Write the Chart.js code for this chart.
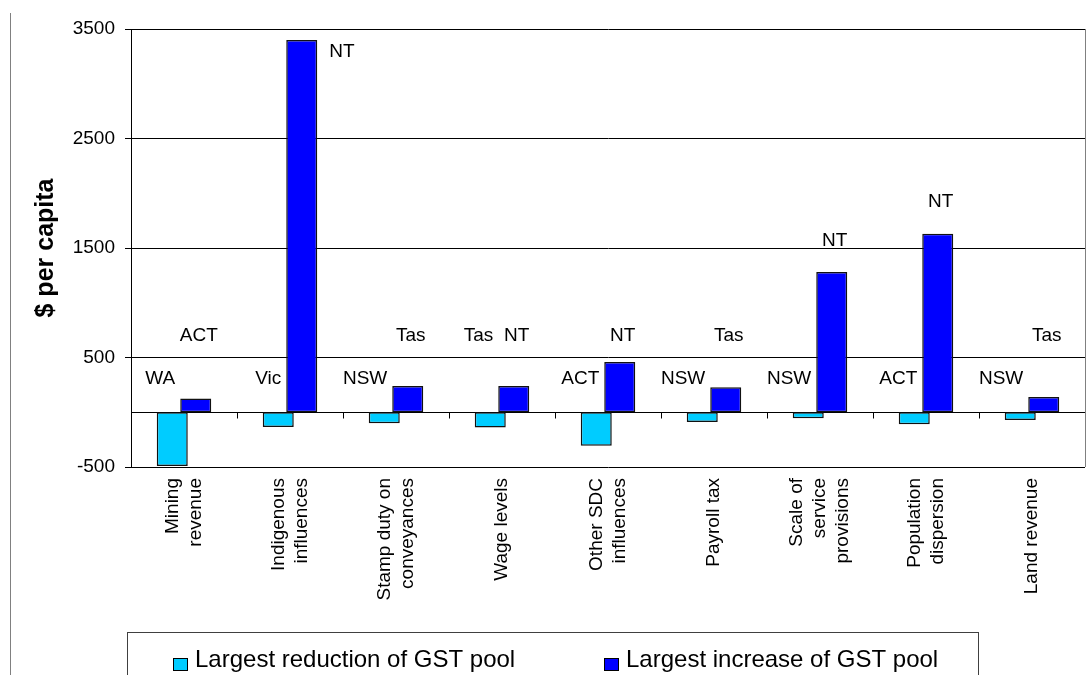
<!DOCTYPE html>
<html>
<head>
<meta charset="utf-8">
<script src="https://cdn.jsdelivr.net/npm/chart.js@4/dist/chart.umd.min.js"></script>
<style>
  html, body { margin: 0; padding: 0; background: #fff; }
</style>
</head>
<body>
<canvas id="gstChart" width="1091" height="675"></canvas>
<script>
// categories (x axis)
var categories = [
  ['Mining', 'revenue'],
  ['Indigenous', 'influences'],
  ['Stamp duty on', 'conveyances'],
  'Wage levels',
  ['Other SDC', 'influences'],
  'Payroll tax',
  ['Scale of', 'service', 'provisions'],
  ['Population', 'dispersion'],
  'Land revenue'
];

// $ per capita
var reductionValues = [-490, -135, -100, -140, -305, -90, -55, -110, -70];
var increaseValues  = [125, 3400, 240, 240, 460, 228, 1280, 1630, 140];

// state shown over each bar
var reductionStates = ['WA', 'Vic', 'NSW', 'Tas', 'ACT', 'NSW', 'NSW', 'ACT', 'NSW'];
var increaseStates  = ['ACT', 'NT', 'Tas', 'NT', 'NT', 'Tas', 'NT', 'NT', 'Tas'];

var seriesNames = ['Largest reduction of GST pool', 'Largest increase of GST pool'];
var yTicks = [-500, 500, 1500, 2500, 3500];

var FONT = '"Liberation Sans", Arial, sans-serif';
Chart.defaults.font.family = FONT;
Chart.defaults.color = '#000';

//그림 장식 (zero line, frame, state labels, legend)
var decorPlugin = {
  id: 'decor',
  beforeDraw: function(chart) {
    // centre multi-line category labels on their category
    var x = chart.scales.x;
    var lh = x.options.ticks.font.size * x.options.ticks.font.lineHeight;
    x.getLabelItems().forEach(function(item) {
      if (item._centred) return;
      var n = Array.isArray(item.label) ? item.label.length : 1;
      item.options.translation[0] -= (n - 1) * lh / 2;
      item._centred = true;
    });
  },
  beforeDatasetsDraw: function(chart) {
    var ctx = chart.ctx, a = chart.chartArea, y = chart.scales.y;
    var y0 = Math.round(y.getPixelForValue(0)) + 0.5;
    ctx.save();
    // right frame line
    ctx.strokeStyle = '#808080';
    ctx.lineWidth = 1;
    ctx.beginPath();
    ctx.moveTo(Math.round(a.right) + 0.5, a.top);
    ctx.lineTo(Math.round(a.right) + 0.5, a.bottom);
    ctx.stroke();
    // zero line
    ctx.strokeStyle = '#000';
    ctx.beginPath();
    ctx.moveTo(a.left, y0);
    ctx.lineTo(a.right, y0);
    ctx.stroke();
    ctx.restore();
  },
  afterDatasetsDraw: function(chart, args, opts) {
    var ctx = chart.ctx, x = chart.scales.x, y = chart.scales.y;
    var y0 = Math.round(y.getPixelForValue(0)) + 0.5;
    ctx.save();
    // category tick marks on the zero line
    ctx.strokeStyle = '#000';
    ctx.lineWidth = 1;
    for (var i = 1; i < categories.length; i++) {
      var tx = Math.round((x.getPixelForTick(i - 1) + x.getPixelForTick(i)) / 2) + 0.5;
      ctx.beginPath();
      ctx.moveTo(tx, y0);
      ctx.lineTo(tx, y0 + 6);
      ctx.stroke();
    }
    // state labels
    ctx.font = '19px ' + FONT;
    ctx.fillStyle = '#000';
    ctx.textBaseline = 'middle';
    chart.getDatasetMeta(0).data.forEach(function(bar, i) {
      var lv = opts.raised.indexOf(i) >= 0 ? opts.highLevel : opts.lowLevel;
      ctx.textAlign = 'right';
      ctx.fillText(reductionStates[i], bar.x + 3, y.getPixelForValue(lv));
    });
    chart.getDatasetMeta(1).data.forEach(function(bar, i) {
      var v = increaseValues[i];
      var lv = v > 500 ? v + 290 : opts.highLevel;
      if (lv > y.max) {
        ctx.textAlign = 'left';
        ctx.fillText(increaseStates[i], bar.x + bar.width / 2 + 12, y.getPixelForValue(v - 110));
      } else {
        ctx.textAlign = 'center';
        ctx.fillText(increaseStates[i], bar.x + 3, y.getPixelForValue(lv));
      }
    });
    ctx.restore();
  },
  afterDraw: function(chart) {
    var ctx = chart.ctx, a = chart.chartArea;
    ctx.save();
    // page line at the left
    ctx.strokeStyle = '#808080';
    ctx.lineWidth = 1;
    ctx.beginPath();
    ctx.moveTo(10.5, 13);
    ctx.lineTo(10.5, chart.height);
    ctx.stroke();
    // legend frame
    var top = chart.height - 43;
    ctx.strokeStyle = '#404040';
    ctx.strokeRect(a.left - 4 + 0.5, top + 0.5, 851, 60);
    // legend items
    var boxX = [a.left + 42, a.left + 473];
    ctx.font = '24px ' + FONT;
    ctx.textAlign = 'left';
    ctx.textBaseline = 'alphabetic';
    chart.data.datasets.forEach(function(ds, i) {
      ctx.fillStyle = ds.backgroundColor;
      ctx.fillRect(boxX[i], top + 26, 15, 13);
      ctx.strokeStyle = '#000';
      ctx.strokeRect(boxX[i] + 0.5, top + 26.5, 14, 12);
      ctx.fillStyle = '#000';
      ctx.fillText(ds.label, boxX[i] + 22, top + 35);
    });
    ctx.restore();
  }
};

var data = {
  labels: categories,
  datasets: [{
    label: seriesNames[0],
    data: reductionValues,
    backgroundColor: '#00CCFF',
    borderColor: '#111',
    borderWidth: 1.5,
    borderSkipped: false
  }, {
    label: seriesNames[1],
    data: increaseValues,
    backgroundColor: '#0000FF',
    borderColor: '#111',
    borderWidth: 1.5,
    borderSkipped: false
  }]
};

var config = {
  type: 'bar',
  data: data,
  options: {
    responsive: false,
    animation: false,
    devicePixelRatio: 1,
    categoryPercentage: 0.443,
    barPercentage: 1.32,
    layout: { padding: { top: 29, right: 6, bottom: 43, left: 31 } },
    scales: {
      x: {
        grid: { display: false, drawTicks: false },
        border: { display: false },
        afterFit: function(scale) { scale.height = 165; },
        ticks: {
          autoSkip: false,
          minRotation: 90,
          maxRotation: 90,
          padding: 11,
          color: '#000',
          font: { size: 19, lineHeight: 1.2 }
        }
      },
      y: {
        min: -500,
        max: 3500,
        afterBuildTicks: function(scale) {
          scale.ticks = yTicks.map(function(v) { return { value: v }; });
        },
        afterFit: function(scale) { scale.width = 100; },
        grid: { color: '#000', lineWidth: 1, tickLength: 6 },
        border: { color: '#000' },
        ticks: {
          padding: 10,
          color: '#000',
          font: { size: 19 },
          callback: function(v) { return String(v); }
        },
        title: {
          display: true,
          text: '$ per capita',
          color: '#000',
          font: { size: 25, weight: 'bold' },
          padding: { top: 0, bottom: 0 }
        }
      }
    },
    plugins: {
      legend: { display: false },
      tooltip: { enabled: false },
      decor: { raised: [3], lowLevel: 310, highLevel: 700 }
    }
  },
  plugins: [decorPlugin]
};

var ctx1 = document.getElementById('gstChart').getContext('2d');
new Chart(ctx1, config);
</script>
</body>
</html>
